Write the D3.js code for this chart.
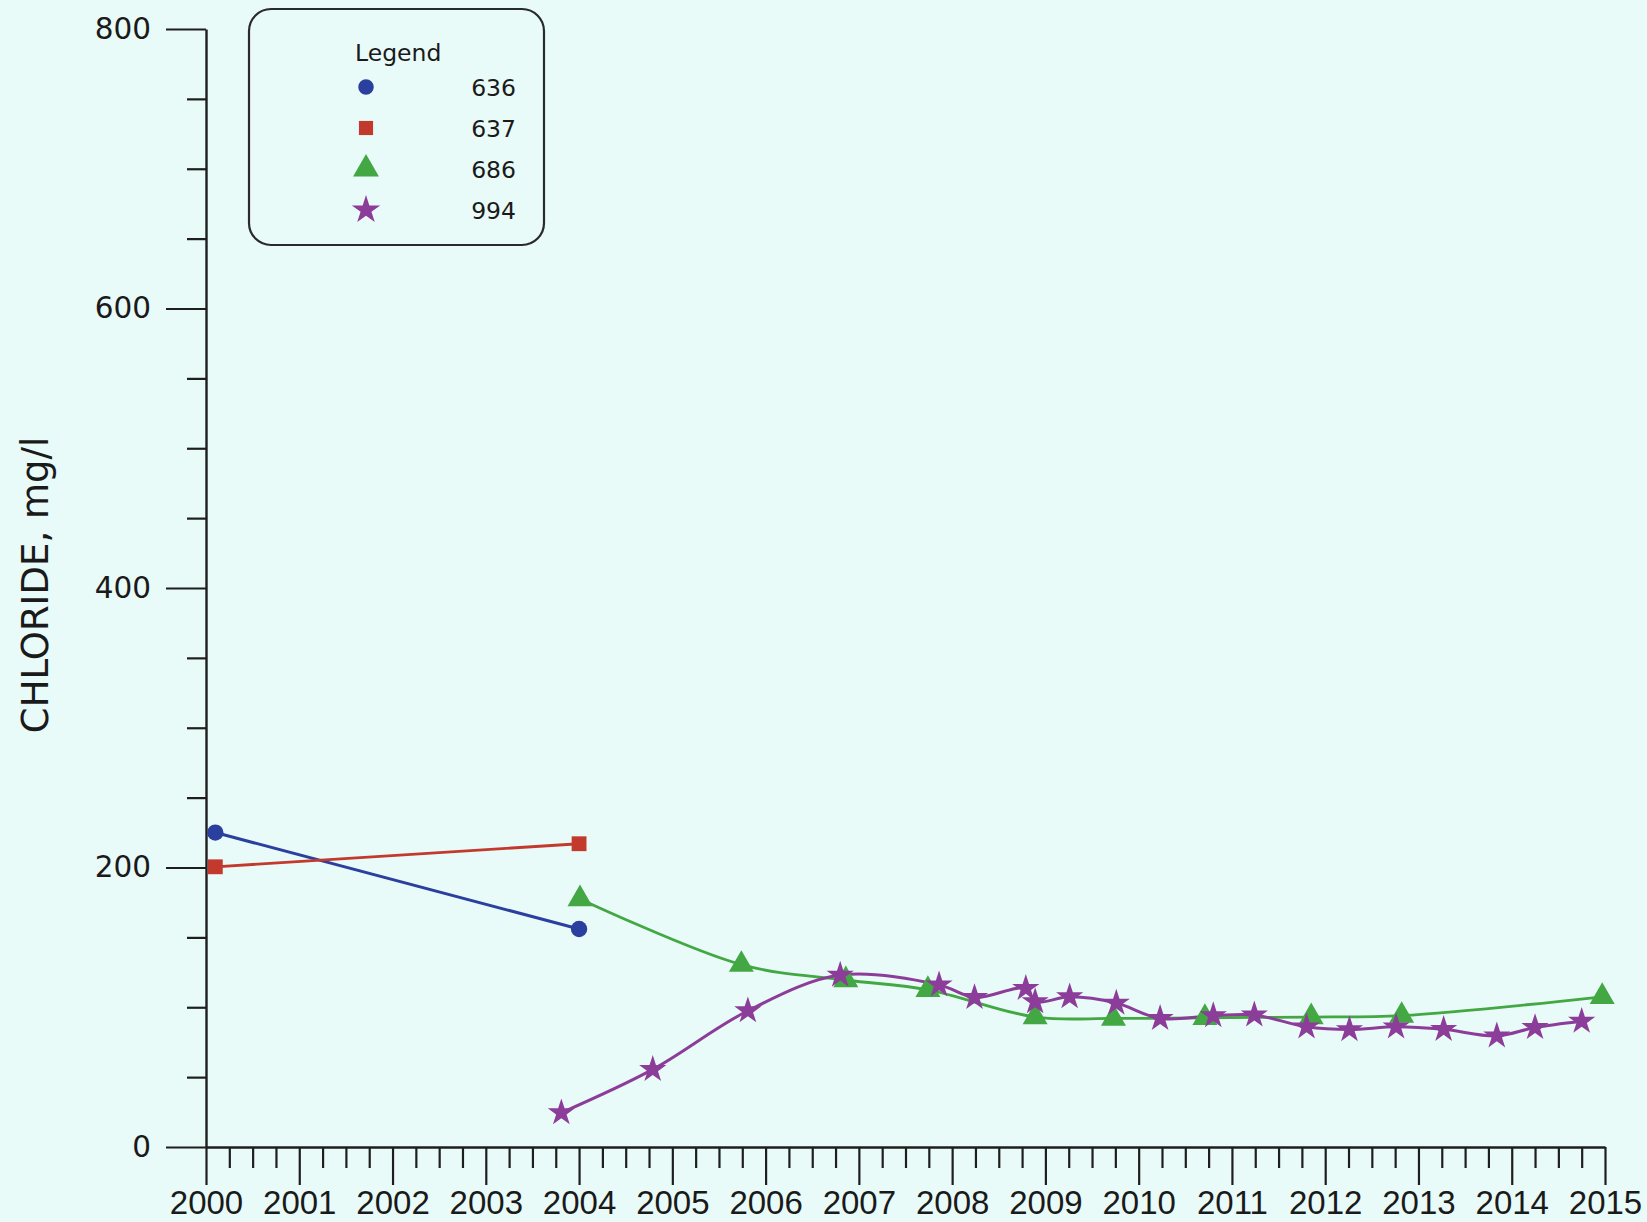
<!DOCTYPE html>
<html>
<head>
<meta charset="utf-8">
<script src="https://cdn.jsdelivr.net/npm/d3@7"></script>
<style>
  html, body { margin: 0; padding: 0; background: #e9fbf8; }
  svg { display: block; }
</style>
</head>
<body>
<svg id="chart" width="1647" height="1222"></svg>
<script>
// ---- data ----
const yearTicks = [2000,2001,2002,2003,2004,2005,2006,2007,2008,2009,2010,2011,2012,2013,2014,2015];
const valueTicks = [0,200,400,600,800];

const s636_x = [2000.10, 2004.00];
const s636_y = [225, 156];

const s637_x = [2000.10, 2004.00];
const s637_y = [200.5, 217];

const s686_x = [2004.01, 2005.74, 2006.86, 2007.74, 2008.89, 2009.73, 2010.71, 2011.85, 2012.82, 2014.97];
const s686_y = [177.5, 130.5, 119.5, 112.5, 93, 92, 92.5, 93, 94, 107.5];

const s994_x = [2003.81, 2004.79, 2005.81, 2006.80, 2007.86, 2008.24, 2008.79, 2008.89, 2009.26, 2009.76,
                2010.23, 2010.80, 2011.24, 2011.80, 2012.26, 2012.76, 2013.27, 2013.84, 2014.25, 2014.75];
const s994_y = [24.5, 55.5, 97.5, 123, 116, 107, 113.5, 104, 107.5, 103,
                92, 94, 94.5, 86, 84, 86, 84.2, 79.5, 85.5, 90];

const seriesNames = ["636", "637", "686", "994"];
const seriesColors = ["#2b3f9f", "#c3392d", "#43a843", "#8c3d99"];

// ---- layout ----
const svg = d3.select("#chart");
svg.append("rect").attr("width", 1647).attr("height", 1222).attr("fill", "#e9fbf8");

const x = d3.scaleLinear().domain([2000, 2015]).range([206, 1605]);
const y = d3.scaleLinear().domain([0, 800]).range([1147, 29]);
const axisColor = "#1e1e1e";
const textColor = "#1a1a1a";

// minor x ticks (quarters)
const minorX = d3.range(2000, 2015.001, 0.25).filter(v => Math.abs(v - Math.round(v)) > 1e-6);
svg.append("g").attr("transform", "translate(0,1147)")
  .call(d3.axisBottom(x).tickValues(minorX).tickSize(21).tickFormat("").tickSizeOuter(0))
  .call(g => g.select(".domain").remove())
  .call(g => g.selectAll("line").attr("stroke", axisColor).attr("stroke-width", 2.2));

// major x
svg.append("g").attr("transform", "translate(0,1147)")
  .call(d3.axisBottom(x).tickValues(yearTicks).tickSize(38).tickPadding(6).tickFormat(d3.format("d")).tickSizeOuter(0))
  .call(g => g.select(".domain").attr("stroke", axisColor).attr("stroke-width", 2.4))
  .call(g => g.selectAll("line").attr("stroke", axisColor).attr("stroke-width", 2.2))
  .call(g => g.selectAll("text").attr("fill", textColor)
      .style("font-family", "'Liberation Sans', Arial, sans-serif").style("font-size", "33px"));

// minor y
const minorY = d3.range(50, 800, 100).concat(d3.range(100, 800, 200)).sort((a,b)=>a-b);
svg.append("g").attr("transform", "translate(206,0)")
  .call(d3.axisLeft(y).tickValues(minorY).tickSize(19).tickFormat("").tickSizeOuter(0))
  .call(g => g.select(".domain").remove())
  .call(g => g.selectAll("line").attr("stroke", axisColor).attr("stroke-width", 2.2));

// major y
svg.append("g").attr("transform", "translate(206,0)")
  .call(d3.axisLeft(y).tickValues(valueTicks).tickSize(40).tickPadding(15).tickFormat(d3.format("d")).tickSizeOuter(0))
  .call(g => g.select(".domain").attr("stroke", axisColor).attr("stroke-width", 2.4))
  .call(g => g.selectAll("line").attr("stroke", axisColor).attr("stroke-width", 2.2))
  .call(g => g.selectAll("text").attr("fill", textColor)
      .style("font-family", "'DejaVu Sans', Verdana, sans-serif").style("font-size", "29.5px"));

// y title
svg.append("text")
  .attr("transform", "translate(48,585) rotate(-90)")
  .attr("text-anchor", "middle")
  .attr("fill", textColor)
  .style("font-family", "'DejaVu Sans', Verdana, sans-serif")
  .style("font-size", "37px")
  .text("CHLORIDE, mg/l");

// ---- series ----
const series = [
  { xs: s636_x, ys: s636_y, symbol: d3.symbolCircle, size: 210, curve: d3.curveLinear, width: 3 },
  { xs: s637_x, ys: s637_y, symbol: d3.symbolSquare, size: 220, curve: d3.curveLinear, width: 2.8 },
  { xs: s686_x, ys: s686_y, symbol: d3.symbolTriangle, size: 270, curve: d3.curveCatmullRom.alpha(0.5), width: 2.8 },
  { xs: s994_x, ys: s994_y, symbol: d3.symbolStar, size: 230, curve: d3.curveCatmullRom.alpha(0.5), width: 3 }
];

const plot = svg.append("g");
series.forEach((s, i) => {
  const pts = s.xs.map((v, k) => [v, s.ys[k]]);
  const line = d3.line().x(d => x(d[0])).y(d => y(d[1])).curve(s.curve);
  plot.append("path").datum(pts)
    .attr("d", line).attr("fill", "none")
    .attr("stroke", seriesColors[i]).attr("stroke-width", s.width);
});
series.forEach((s, i) => {
  const pts = s.xs.map((v, k) => [v, s.ys[k]]);
  plot.append("g").selectAll("path").data(pts).join("path")
    .attr("transform", d => `translate(${x(d[0])},${y(d[1])})`)
    .attr("d", d3.symbol().type(s.symbol).size(s.size))
    .attr("fill", seriesColors[i]);
});

// ---- legend ----
const lg = svg.append("g");
lg.append("rect").attr("x", 249).attr("y", 9).attr("width", 295).attr("height", 236)
  .attr("rx", 22).attr("ry", 22).attr("fill", "none").attr("stroke", "#2a2a2a").attr("stroke-width", 2.2);
lg.append("text").attr("x", 355).attr("y", 61).attr("fill", textColor)
  .style("font-family", "'DejaVu Sans', Verdana, sans-serif").style("font-size", "23.5px").text("Legend");
const rowY = [87, 128, 169, 210];
const legendSizes = [190, 200, 290, 250];
seriesNames.forEach((name, i) => {
  lg.append("path")
    .attr("transform", `translate(366,${rowY[i]})`)
    .attr("d", d3.symbol().type(series[i].symbol).size(legendSizes[i]))
    .attr("fill", seriesColors[i]);
  lg.append("text").attr("x", 516).attr("y", rowY[i] + 9).attr("text-anchor", "end")
    .attr("fill", textColor)
    .style("font-family", "'DejaVu Sans', Verdana, sans-serif").style("font-size", "23.5px").text(name);
});
</script>
</body>
</html>
